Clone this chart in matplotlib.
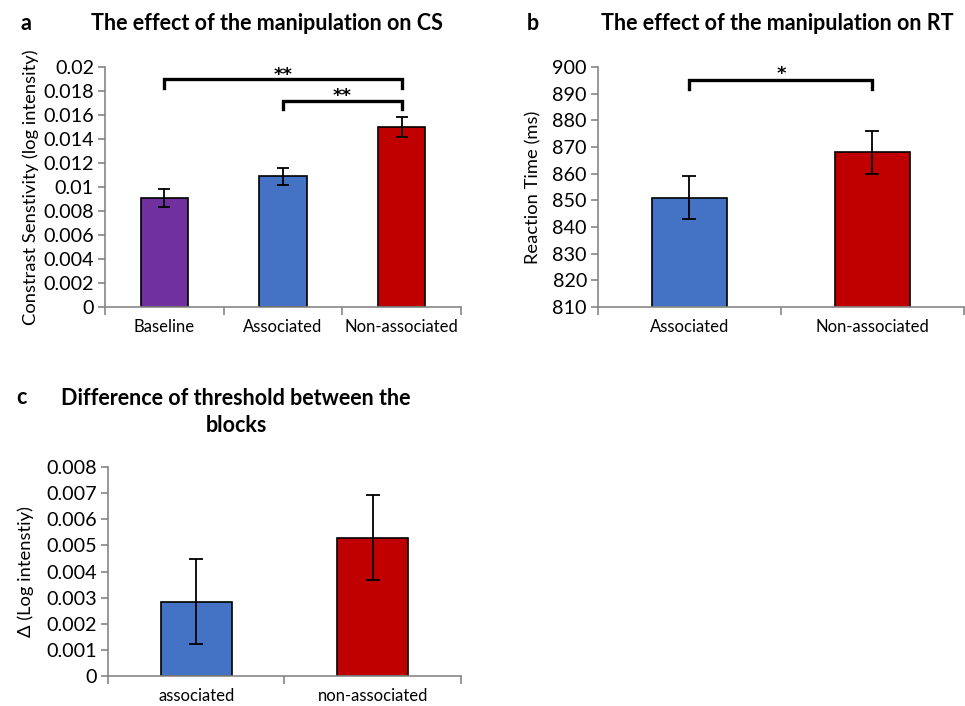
import numpy as np
import matplotlib.pyplot as plt

plt.rcParams['font.family'] = ['Lato', 'DejaVu Sans']

# panel a
cs_labels = ["Baseline", "Associated", "Non-associated"]
cs_means = [0.0091, 0.0109, 0.0150]
cs_errs = [0.00075, 0.0007, 0.0008]
cs_colors = ["#7030A0", "#4472C4", "#C00000"]

# panel b
rt_labels = ["Associated", "Non-associated"]
rt_means = [851, 868]
rt_errs = [8, 8]
rt_colors = ["#4472C4", "#C00000"]

# panel c
diff_labels = ["associated", "non-associated"]
diff_means = [0.00285, 0.0053]
diff_errs = [0.00162, 0.00162]
diff_colors = ["#4472C4", "#C00000"]

axis_grey = "#868686"


def style_axes(ax, n, ylim, step):
    ax.set_xlim(-0.5, n - 0.5)
    ax.set_ylim(*ylim)
    ax.set_yticks(np.arange(ylim[0], ylim[1] + step / 2, step))
    for s in ["top", "right"]:
        ax.spines[s].set_visible(False)
    for s in ["left", "bottom"]:
        ax.spines[s].set_color(axis_grey)
        ax.spines[s].set_linewidth(1.2)
    ax.set_xticks(range(n))
    ax.set_xticks(np.arange(-0.5, n, 1), minor=True)
    ax.tick_params(axis="x", which="major", length=0, labelsize=12, pad=9)
    ax.tick_params(axis="x", which="minor", length=6, color=axis_grey, width=1.2)
    ax.tick_params(axis="y", length=5, color=axis_grey, width=1.2, labelsize=14.2, pad=3)


def bracket(ax, x1, x2, y, leg, text, gap_px):
    ax.plot([x1, x1, x2, x2], [y - leg, y, y, y - leg], color="black", lw=2.4,
            solid_joinstyle="miter", clip_on=False)
    # asterisk centre sits about 10.8 px above baseline at 13 pt
    ax.annotate(text, xy=((x1 + x2) / 2, y), xytext=(0, (gap_px - 10.8) / 1.389),
                textcoords="offset points", ha="center", va="baseline",
                fontsize=13, fontweight="bold", family="DejaVu Sans")


fig = plt.figure(figsize=(9.65, 7.06), dpi=100)

ax1 = fig.add_axes([0.1088, 0.5652, 0.3689, 0.3399])
x = np.arange(len(cs_labels))
ax1.bar(x, cs_means, width=0.4, color=cs_colors, edgecolor="black", linewidth=1.2,
        yerr=cs_errs, error_kw=dict(ecolor="black", elinewidth=1.3, capsize=4, capthick=1.3))
style_axes(ax1, 3, (0, 0.02), 0.002)
ax1.set_yticklabels(["0"] + [f"{v:g}" for v in np.arange(0.002, 0.0201, 0.002).round(3)])
ax1.set_xticklabels(cs_labels)
ax1.set_ylabel("Constrast Senstivity (log intensity)", fontsize=13.2, labelpad=3)
bracket(ax1, 0, 2, 0.01904, 0.0008, "**", 9)
bracket(ax1, 1, 2, 0.01717, 0.0007, "**", 10.5)
fig.text(0.021, 0.967, "a", fontsize=15.5, fontweight="bold", va="center")
fig.text(0.2767, 0.967, "The effect of the manipulation on CS", fontsize=15.5,
         fontweight="bold", ha="center", va="center")

ax2 = fig.add_axes([0.6197, 0.5652, 0.379, 0.3399])
x = np.arange(len(rt_labels))
ax2.bar(x, rt_means, width=0.41, color=rt_colors, edgecolor="black", linewidth=1.2,
        yerr=rt_errs, error_kw=dict(ecolor="black", elinewidth=1.3, capsize=5, capthick=1.3))
style_axes(ax2, 2, (810, 900), 10)
ax2.set_xticklabels(rt_labels)
ax2.set_ylabel("Reaction Time (ms)", fontsize=13.2, labelpad=8)
bracket(ax2, 0, 1, 895.1, 3.4, "*", 12)
fig.text(0.546, 0.967, "b", fontsize=15.5, fontweight="bold", va="center")
fig.text(0.805, 0.967, "The effect of the manipulation on RT", fontsize=15.5,
         fontweight="bold", ha="center", va="center")

ax3 = fig.add_axes([0.1119, 0.0425, 0.3658, 0.296])
x = np.arange(len(diff_labels))
ax3.bar(x, diff_means, width=0.4, color=diff_colors, edgecolor="black", linewidth=1.2,
        yerr=diff_errs, error_kw=dict(ecolor="black", elinewidth=1.3, capsize=5, capthick=1.3))
style_axes(ax3, 2, (0, 0.008), 0.001)
ax3.set_yticklabels(["0"] + [f"{v:g}" for v in np.arange(0.001, 0.00801, 0.001).round(3)])
ax3.set_xticklabels(diff_labels)
ax3.set_ylabel("Δ (Log intenstiy)", fontsize=13.2, labelpad=9)
fig.text(0.017, 0.437, "c", fontsize=15.5, fontweight="bold", va="center")
fig.text(0.2446, 0.4164, "Difference of threshold between the\nblocks", fontsize=15.5,
         fontweight="bold", ha="center", va="center", linespacing=1.35)

fig.savefig("out.png", dpi=100)
